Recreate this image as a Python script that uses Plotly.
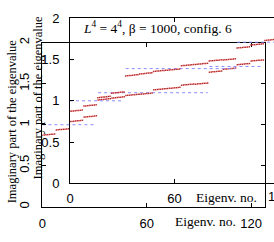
import plotly.graph_objects as go

# ---------------- data ----------------
eigen_index = list(range(128))
imag_part = [
    0.873, 0.875, 0.878, 0.879, 0.882, 0.884, 0.885, 0.888,
    0.936, 0.938, 0.941, 0.942, 0.945, 0.946, 0.949, 0.951,
    1.038, 1.040, 1.042, 1.045, 1.047, 1.049, 1.052, 1.054,
    1.093, 1.095, 1.097, 1.099, 1.101, 1.104, 1.106, 1.108,
    1.302, 1.304, 1.306, 1.308, 1.311, 1.313, 1.315, 1.317,
    1.325, 1.327, 1.329, 1.332, 1.334, 1.336, 1.338, 1.340,
    1.356, 1.358, 1.360, 1.362, 1.364, 1.366, 1.368, 1.370,
    1.371, 1.373, 1.375, 1.377, 1.379, 1.381, 1.383, 1.385,
    1.425, 1.427, 1.429, 1.431, 1.433, 1.435, 1.437, 1.439,
    1.441, 1.443, 1.445, 1.447, 1.449, 1.451, 1.453, 1.455,
    1.482, 1.484, 1.486, 1.488, 1.490, 1.492, 1.494, 1.496,
    1.494, 1.496, 1.498, 1.500, 1.502, 1.504, 1.506, 1.508,
    1.640, 1.642, 1.644, 1.646, 1.648, 1.650, 1.652, 1.654,
    1.676, 1.678, 1.680, 1.682, 1.684, 1.686, 1.688, 1.690,
    1.732, 1.734, 1.736, 1.738, 1.740, 1.742, 1.744, 1.746,
    1.776, 1.778, 1.780, 1.782, 1.784, 1.786, 1.788, 1.790,
]
free_start = [0, 32, 96]
free_end = [31, 95, 127]
free_level = [1.0, 1.39, 1.71]

y_ticks = [0, 0.5, 1, 1.5, 2]
y_tick_text = ["0", "0.5", "1", "1.5", "2"]
x_ticks = [0, 60, 120]
x_tick_text = ["0", "60", "120"]

title_text = "<i>L</i><sup>4</sup> = 4<sup>4</sup>, β = 1000, config. 6"
y_title = "Imaginary part of the eigenvalue"
x_title = "Eigenv. no."

W, H = 274, 242
SANS = "Liberation Sans"
SERIF = "Liberation Serif"

fig = go.Figure()

fx, fy = [], []
for s, e, lv in zip(free_start, free_end, free_level):
    fx += [s, e, None]
    fy += [lv, lv, None]

for xa, ya in (("x", "y"), ("x2", "y2")):
    fig.add_trace(go.Scatter(x=fx, y=fy, mode="lines", xaxis=xa, yaxis=ya,
                             line=dict(color="#8c8cff", width=1, dash="dot"),
                             hoverinfo="skip", showlegend=False))
    fig.add_trace(go.Scatter(x=eigen_index, y=imag_part, mode="markers",
                             xaxis=xa, yaxis=ya,
                             marker=dict(symbol="square", size=1.5, color="#e04040",
                                         line=dict(width=0)),
                             showlegend=False))
    fig.add_trace(go.Scatter(x=eigen_index, y=imag_part, mode="markers",
                             xaxis=xa, yaxis=ya,
                             marker=dict(symbol="circle", size=0.8, color="#202020",
                                         opacity=0.8, line=dict(width=0)),
                             showlegend=False))

def px(x):
    return x / W

def py(y):
    return (H - y) / H

axis_common = dict(showline=True, linecolor="black", linewidth=1,
                   ticks="inside", ticklen=4, tickcolor="black", tickwidth=1,
                   showgrid=False, zeroline=False, fixedrange=True,
                   tickfont=dict(family=SANS, size=13, color="black"))

fig.update_layout(
    # Frame B (outer)
    xaxis=dict(domain=[px(39), px(265)], range=[0, 128], anchor="y",
               tickvals=x_ticks, ticktext=x_tick_text, mirror="ticks",
               ticklabelstandoff=5, **axis_common),
    yaxis=dict(domain=[py(213), py(38)], range=[0, 2], anchor="x",
               tickvals=y_ticks, ticktext=y_tick_text, mirror="ticks",
               tickangle=-90, ticklabelstandoff=7, **axis_common),
    # Frame A (inner, extends past the right edge)
    xaxis2=dict(domain=[px(67), 1.0], range=[0, 117.2], anchor="y2",
                tickvals=x_ticks, ticktext=x_tick_text, mirror="ticks",
                ticklabelstandoff=3, **axis_common),
    yaxis2=dict(domain=[py(188), py(12)], range=[0, 2], anchor="x2",
                tickvals=y_ticks, ticktext=y_tick_text, mirror=False,
                ticklabelstandoff=7, **axis_common),
)

annots = [
    dict(text=title_text, x=px(78), y=py(22), xanchor="left", yanchor="middle",
         font=dict(family=SERIF, size=13.5, color="black")),
    dict(text=x_title, x=px(226), y=py(203), xanchor="center", yanchor="middle",
         font=dict(family=SERIF, size=13.5, color="black")),
    dict(text=x_title, x=px(204), y=py(229), xanchor="center", yanchor="middle",
         font=dict(family=SERIF, size=13.5, color="black")),
    dict(text="120", x=px(279), y=py(202), xanchor="center", yanchor="middle",
         font=dict(family=SANS, size=13, color="black")),
    dict(text=y_title, x=px(9), y=py(122), xanchor="center", yanchor="middle",
         textangle=-90, font=dict(family=SERIF, size=12.5, color="black")),
    dict(text=y_title, x=px(34), y=py(97), xanchor="center", yanchor="middle",
         textangle=-90, font=dict(family=SERIF, size=12.5, color="black")),
]
for a in annots:
    a.update(xref="paper", yref="paper", showarrow=False)

fig.update_layout(
    annotations=annots,
    width=W, height=H,
    margin=dict(l=0, r=0, t=0, b=0),
    paper_bgcolor="white", plot_bgcolor="rgba(0,0,0,0)",
    showlegend=False,
)

fig.write_html("out.html", config=dict(displayModeBar=False),
               post_script="document.body.style.margin='0px';"
                           "document.body.style.overflow='hidden';")
